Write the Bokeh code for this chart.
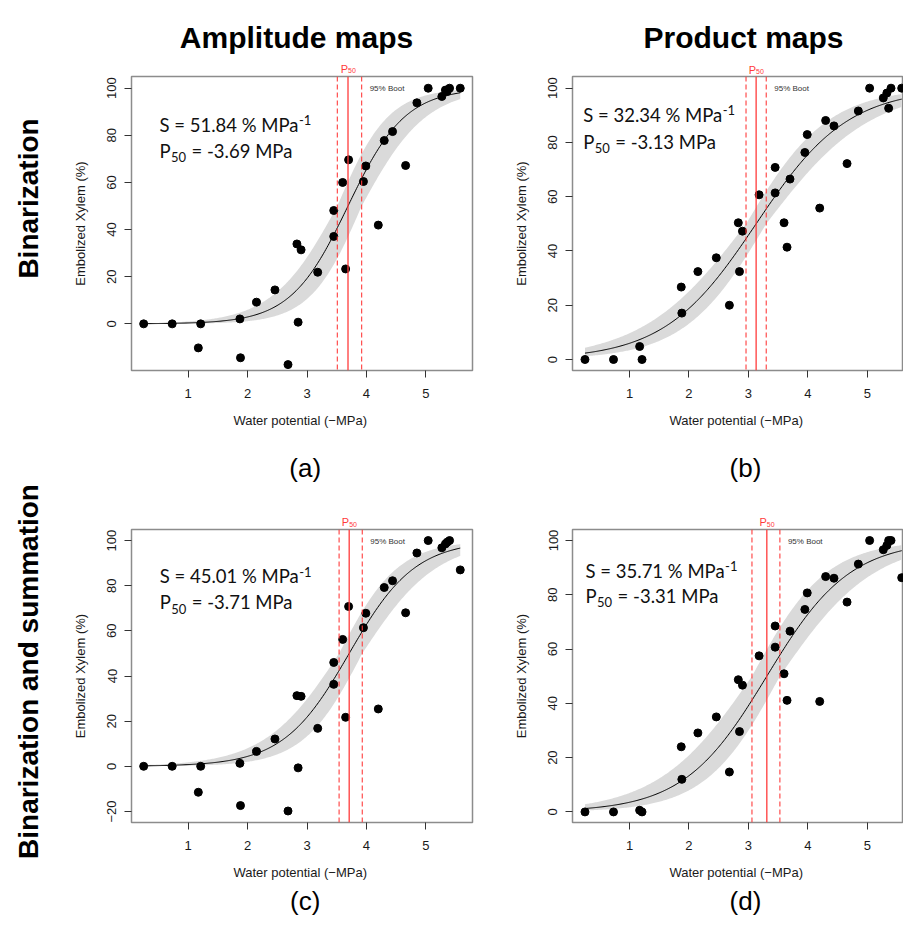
import numpy as np
from bokeh.plotting import figure
from bokeh.models import Range1d, FixedTicker, Label, Span
from bokeh.core.properties import value
from bokeh.layouts import column, row
from bokeh.embed import file_html
from bokeh.resources import INLINE

# ---------------- data ----------------
water_potential = [0.25, 0.73, 1.17, 1.21, 1.87, 1.88, 2.15, 2.46, 2.68, 2.83, 2.85,
                   2.90, 3.18, 3.45, 3.45, 3.60, 3.65, 3.70, 3.95, 3.99, 4.20, 4.30,
                   4.44, 4.66, 4.85, 5.04, 5.27, 5.33, 5.36, 5.40, 5.58]

emb_a = [0, 0, -10.2, 0, 2.1, -14.4, 9.2, 14.4, -17.3, 33.9, 0.7, 31.4, 21.9, 48.1,
         37.1, 60.0, 23.3, 69.6, 60.4, 67.0, 41.9, 77.8, 81.6, 67.2, 93.8, 100,
         96.5, 99.2, 98.6, 100, 100]
emb_b = [0, 0, 4.8, 0, 26.7, 17.1, 32.4, 37.5, 20.0, 50.4, 32.4, 47.3, 60.7, 70.8,
         61.4, 50.4, 41.4, 66.5, 76.3, 82.9, 55.8, 88.1, 86.1, 72.2, 91.6, 100,
         96.4, 98.2, 92.6, 100, 100]
emb_c = [0, 0, -11.5, 0, 1.3, -17.4, 6.6, 12.1, -19.8, 31.3, -0.7, 31.0, 16.8, 46.0,
         36.3, 56.2, 21.7, 70.8, 61.4, 67.8, 25.4, 79.2, 82.2, 68.0, 94.5, 100,
         96.8, 98.5, 99.3, 100, 87.0]
emb_d = [0, 0, 0.6, 0, 24.0, 12.0, 29.1, 35.0, 14.7, 48.7, 29.6, 46.7, 57.5, 68.5,
         60.7, 50.9, 41.1, 66.6, 74.6, 80.7, 40.7, 86.7, 86.1, 77.3, 91.3, 100,
         96.6, 98.2, 100, 100, 86.3]

slope = [51.84, 32.34, 45.01, 35.71]          # % MPa-1
p50 = [3.69, 3.13, 3.71, 3.31]                # -MPa
p50_lo = [3.51, 2.96, 3.54, 3.06]
p50_hi = [3.92, 3.30, 3.93, 3.53]
panel_letters = ["(a)", "(b)", "(c)", "(d)"]
col_titles = ["Amplitude maps", "Product maps"]
row_titles = ["Binarization", "Binarization and summation"]
x_ticks = [1, 2, 3, 4, 5]
y_ticks = [-20, 0, 20, 40, 60, 80, 100]

RED = "#ff3b3b"
FONT = "Liberation Sans"

# ---------------- geometry (pixels) ----------------
W_ROWLAB = 60
W_LEFT, BL_LEFT, BR_LEFT = 440, 71, 28
W_RIGHT, BL_RIGHT, BR_RIGHT = 403, 72, 0
H_HEAD = 60


def sigmoid(x, s, p):
    return 100.0 / (1.0 + np.exp(s / 25.0 * (p - x)))


def blank(width, height, xr, yr, bl=0, br=0):
    f = figure(width=width, height=height, x_range=xr, y_range=yr,
               output_backend="svg", toolbar_location=None,
               x_axis_location=None, y_axis_location=None,
               min_border_left=bl, min_border_right=br, min_border_top=0,
               min_border_bottom=0)
    f.outline_line_color = None
    f.xgrid.visible = False
    f.ygrid.visible = False
    f.background_fill_color = "white"
    f.border_fill_color = "white"
    return f


def make_panel(i, ys, width, height, bl, br, bt, bb, xr, yr, txt_pos):
    p = figure(width=width, height=height, output_backend="svg", toolbar_location=None,
               x_range=xr, y_range=Range1d(*yr),
               min_border_left=bl, min_border_right=br, min_border_top=bt,
               min_border_bottom=bb)
    p.xgrid.visible = False
    p.ygrid.visible = False
    p.outline_line_color = "#8c8c8c"
    p.outline_line_width = 1.5
    p.background_fill_color = "white"
    p.border_fill_color = "white"

    for ax in (p.xaxis[0], p.yaxis[0]):
        ax.axis_line_color = None
        ax.major_tick_line_color = "#333333"
        ax.major_tick_out = 7
        ax.major_tick_in = 0
        ax.minor_tick_line_color = None
        ax.major_label_text_font = FONT
        ax.major_label_text_font_size = "13px"
        ax.major_label_text_color = "#1a1a1a"
        ax.axis_label_text_font = FONT
        ax.axis_label_text_font_size = "13px"
        ax.axis_label_text_font_style = "normal"
        ax.axis_label_text_color = "#1a1a1a"
    p.xaxis.ticker = FixedTicker(ticks=x_ticks)
    p.yaxis.ticker = FixedTicker(ticks=y_ticks)
    p.xaxis.major_label_standoff = 11
    p.xaxis.axis_label_standoff = 12
    p.yaxis.major_label_standoff = 8
    p.yaxis.axis_label_standoff = 17
    p.yaxis.major_label_orientation = "vertical"
    p.xaxis.axis_label = "Water potential  (\u2212MPa)"
    p.yaxis.axis_label = "Embolized Xylem (%)"

    # fitted curve and its confidence band
    xs = np.linspace(min(water_potential), max(water_potential), 300)
    s, pp, lo, hi = slope[i], p50[i], p50_lo[i], p50_hi[i]
    curves = [sigmoid(xs, s * f, q) for f in (0.88, 1.0, 1.12) for q in (lo, pp, hi)]
    p.varea(x=xs, y1=np.min(curves, axis=0), y2=np.max(curves, axis=0),
            fill_color="#dadada")
    p.line(xs, sigmoid(xs, s, pp), line_color="black", line_width=1)

    # P50 and bootstrap CI lines
    p.add_layout(Span(location=pp, dimension="height", line_color=RED, line_width=1.3))
    for q in (lo, hi):
        p.add_layout(Span(location=q, dimension="height", line_color=RED,
                          line_width=1.1, line_dash="5 3"))

    p.scatter(water_potential, ys, size=8, color="black")

    p.add_layout(Label(x=hi, y=99.7, text="95% Boot", text_color="#333333",
                       text_font=FONT, text_font_size="8px", text_align="left",
                       text_baseline="middle", x_offset=8))

    # S and P50 annotations
    tx, ty1, ty2 = txt_pos
    kw = dict(text_font="Lato", text_color="#111111", text_baseline="alphabetic")
    p.add_layout(Label(x=tx, y=ty1, text=f"S = {s:.2f} % MPa", text_font_size="18.5px",
                       **kw))
    p.add_layout(Label(x=tx, y=ty1, text="-1", text_font_size="13px", x_offset=139.5,
                       y_offset=4.5, **kw))
    p.add_layout(Label(x=tx, y=ty2, text="P", text_font_size="18.5px", **kw))
    p.add_layout(Label(x=tx, y=ty2, text="50", text_font_size="13px", x_offset=11.5,
                       y_offset=-6.5, **kw))
    p.add_layout(Label(x=tx, y=ty2, text=f"= -{pp:.2f} MPa", text_font_size="18.5px",
                       x_offset=32, **kw))
    return p


def p50_strip(i, xr, width, bl, br, y_top, y_bot, y_lab):
    f = blank(width, y_bot - y_top, xr, Range1d(y_bot, y_top), bl, br)
    f.text(x=[p50[i]], y=[y_lab], text=["P"], text_color=RED, text_font=value(FONT),
           text_font_size=value("11px"), text_align="right", text_baseline="middle")
    f.text(x=[p50[i]], y=[y_lab + 2], text=["50"], text_color=RED,
           text_font=value(FONT), text_font_size=value("7px"), text_align="left",
           text_baseline="middle")
    return f


def letter_strip(i, xr, width, bl, br, y_top, y_bot, lx, ly):
    f = blank(width, y_bot - y_top, xr, Range1d(y_bot, y_top), bl, br)
    f.text(x=[lx], y=[ly], text=[panel_letters[i]], text_color="black",
           text_font=value(FONT), text_font_size=value("26px"), text_align="center",
           text_baseline="middle")
    return f


xr_left = [Range1d(0.045, 5.786), Range1d(0.045, 5.786)]
xr_right = [Range1d(0.04, 5.61), Range1d(0.04, 5.61)]

# ---- row 1 (page y 60 .. 490) ----
sa = p50_strip(0, xr_left[0], W_LEFT, BL_LEFT, BR_LEFT, 60, 75, 68.3)
fa = make_panel(0, emb_a, W_LEFT, 365, BL_LEFT, BR_LEFT, 1, 70, xr_left[0],
                (-19.8, 104.97), (0.517, 84.4, 73.5))
la = letter_strip(0, xr_left[0], W_LEFT, BL_LEFT, BR_LEFT, 440, 490, 2.97, 467)

sb = p50_strip(1, xr_right[0], W_RIGHT, BL_RIGHT, BR_RIGHT, 60, 75, 69)
fb = make_panel(1, emb_b, W_RIGHT, 365, BL_RIGHT, BR_RIGHT, 1, 70, xr_right[0],
                (-4.05, 104.3), (0.22, 90.2, 80.3))
lb = letter_strip(1, xr_right[0], W_RIGHT, BL_RIGHT, BR_RIGHT, 440, 490, 2.95, 467)

# ---- row 2 (page y 490 .. 935) ----
sc = p50_strip(2, xr_left[1], W_LEFT, BL_LEFT, BR_LEFT, 490, 528, 521.7)
fc = make_panel(2, emb_c, W_LEFT, 358, BL_LEFT, BR_LEFT, 1, 64, xr_left[1],
                (-24.9, 104.9), (0.52, 84.2, 72.7))
lc = letter_strip(2, xr_left[1], W_LEFT, BL_LEFT, BR_LEFT, 886, 935, 2.97, 900)

sd = p50_strip(3, xr_right[1], W_RIGHT, BL_RIGHT, BR_RIGHT, 490, 528, 521.7)
fd = make_panel(3, emb_d, W_RIGHT, 358, BL_RIGHT, BR_RIGHT, 1, 64, xr_right[1],
                (-3.9, 104.05), (0.26, 88.9, 79.7))
ld = letter_strip(3, xr_right[1], W_RIGHT, BL_RIGHT, BR_RIGHT, 886, 935, 2.95, 900)

# ---- header with column titles ----
head = blank(W_ROWLAB + W_LEFT + W_RIGHT, H_HEAD, Range1d(0, 903), Range1d(H_HEAD, 0))
head.text(x=[296, 743], y=[37, 37], text=col_titles, text_color="black",
          text_font=value(FONT), text_font_style="bold", text_font_size=value("30px"),
          text_align="center", text_baseline="alphabetic")

# ---- row labels (one tall strip on the left) ----
rl = blank(W_ROWLAB, 875, Range1d(0, W_ROWLAB), Range1d(935, 60))
rl.text(x=[28, 28], y=[198, 671], text=row_titles, text_color="black",
        text_font=value(FONT), text_font_style="bold", text_font_size=value("28px"),
        text_align="center", text_baseline="middle", angle=np.pi / 2)

panels = column(row(column(sa, fa, la), column(sb, fb, lb)),
                row(column(sc, fc, lc), column(sd, fd, ld)))
layout = column(head, row(rl, panels))
open("out.html", "w").write(file_html(layout, INLINE))
